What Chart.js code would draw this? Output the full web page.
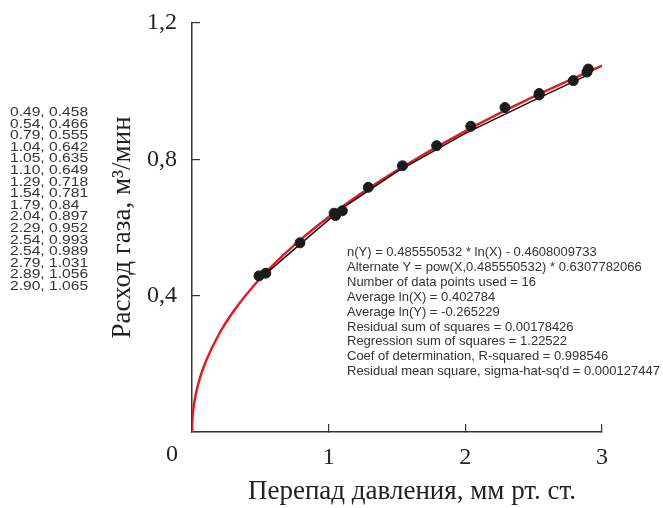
<!DOCTYPE html>
<html lang="ru">
<head>
<meta charset="utf-8">
<title>Расход газа</title>
<script src="https://cdn.jsdelivr.net/npm/chart.js@4.4.1/dist/chart.umd.min.js"></script>
<style>
  body { margin: 0; background: #fff; }
  #wrap { position: relative; width: 663px; height: 508px; overflow: hidden; }
  #gasChart { position: absolute; left: 0; top: 0; }
  #pointList {
    position: absolute; left: 10px; top: 106px;
    font: 13px "Liberation Sans", Arial, sans-serif;
    line-height: 11.6px; color: #333;
    transform: scaleX(1.2); transform-origin: 0 0;
  }
  #fitNotes {
    position: absolute; left: 347px; top: 245px;
    font: 13px "Liberation Sans", Arial, sans-serif;
    line-height: 14.9px; color: #333; white-space: nowrap;
  }
</style>
</head>
<body>
<div id="wrap">
  <canvas id="gasChart" width="663" height="508"></canvas>
  <div id="pointList"></div>
  <div id="fitNotes"></div>
</div>
<script>
// measured points
const pressureDrop = [0.49, 0.54, 0.79, 1.04, 1.05, 1.10, 1.29, 1.54, 1.79, 2.04, 2.29, 2.54, 2.54, 2.79, 2.89, 2.90];
const gasFlow = [0.458, 0.466, 0.555, 0.642, 0.635, 0.649, 0.718, 0.781, 0.84, 0.897, 0.952, 0.993, 0.989, 1.031, 1.056, 1.065];

// red fitted curve
const fitX = [0, 0.002, 0.01, 0.03, 0.06, 0.1, 0.2, 0.3, 0.5, 0.75, 1, 1.25, 1.5, 2, 2.5, 3];
const fitY = [0, 0.031, 0.067, 0.115, 0.161, 0.206, 0.289, 0.352, 0.451, 0.549, 0.631, 0.703, 0.768, 0.883, 0.984, 1.075];

// thin black line under the red one
const trendX = [0.49, 0.8, 1.1, 1.5, 2.0, 2.5, 2.92];
const trendY = [0.447, 0.554, 0.657, 0.764, 0.876, 0.973, 1.052];

const xTitle = "Перепад давления, мм рт. ст.";
const yTitle = "Расход газа, м³/мин";

const fitNotes = [
  "n(Y) = 0.485550532 * ln(X) - 0.4608009733",
  "Alternate Y = pow(X,0.485550532) * 0.6307782066",
  "Number of data points used = 16",
  "Average ln(X) = 0.402784",
  "Average ln(Y) = -0.265229",
  "Residual sum of squares = 0.00178426",
  "Regression sum of squares = 1.22522",
  "Coef of determination, R-squared = 0.998546",
  "Residual mean square, sigma-hat-sq'd = 0.000127447",
];

const serif = '"Liberation Serif", "Times New Roman", serif';
const ink = "#222";

function toPoints(xs, ys) {
  return xs.map((x, i) => ({ x: x, y: ys[i] }));
}

function renderSideText() {
  document.getElementById("pointList").innerHTML = pressureDrop
    .map((x, i) => `<div>${x.toFixed(2)}, ${gasFlow[i]}</div>`)
    .join("");
  document.getElementById("fitNotes").innerHTML = fitNotes
    .map((line) => `<div>${line}</div>`)
    .join("");
}

// corner "0" and the x title are a bit off-centre in the original
const axisExtras = {
  id: "axisExtras",
  afterDraw(chart) {
    const { ctx, scales } = chart;
    const x0 = scales.x.getPixelForValue(0);
    const y0 = scales.y.getPixelForValue(0);
    ctx.save();
    ctx.fillStyle = ink;
    ctx.textAlign = "center";
    ctx.textBaseline = "top";
    ctx.font = `24px ${serif}`;
    ctx.fillText("0", x0 - 20, y0 + 11);
    ctx.textBaseline = "middle";
    ctx.font = `27px ${serif}`;
    ctx.fillText(xTitle, (x0 + scales.x.getPixelForValue(3)) / 2 + 15, 492);
    ctx.restore();
  },
};

function renderGasChart() {
  const ctx = document.getElementById("gasChart");

  new Chart(ctx, {
    type: "scatter",
    data: {
      datasets: [
        {
          data: toPoints(pressureDrop, gasFlow),
          backgroundColor: "#1b1b1b",
          borderColor: "#1b1b1b",
          pointRadius: 5,
          order: 0,
        },
        {
          data: toPoints(trendX, trendY),
          showLine: true,
          borderColor: "#111",
          borderWidth: 1.5,
          pointRadius: 0,
          order: 1,
        },
        {
          data: toPoints(fitX, fitY),
          showLine: true,
          borderColor: "#e51b24",
          borderWidth: 2.5,
          pointRadius: 0,
          cubicInterpolationMode: "monotone",
          order: 2,
        },
      ],
    },
    options: {
      responsive: false,
      animation: false,
      devicePixelRatio: 1,
      layout: { padding: { left: 0, top: 23, right: 61, bottom: 0 } },
      plugins: { legend: { display: false }, tooltip: { enabled: false } },
      scales: {
        x: {
          type: "linear",
          min: 0,
          max: 3,
          afterFit: (scale) => {
            scale.height = 76;
            scale.paddingLeft = 0;
            scale.paddingRight = 0;
          },
          border: { display: true, color: "#333", width: 1.5 },
          grid: { drawOnChartArea: false, drawTicks: true, tickLength: -8, color: "#333", lineWidth: 1.2 },
          ticks: {
            stepSize: 1,
            padding: 19,
            color: ink,
            font: { family: serif, size: 24 },
            callback: (value) => (value === 0 ? "" : String(value)),
          },
          title: { display: false },
        },
        y: {
          type: "linear",
          min: 0,
          max: 1.2,
          afterFit: (scale) => {
            scale.width = 192;
            scale.paddingTop = 0;
            scale.paddingBottom = 0;
          },
          border: { display: true, color: "#333", width: 1.5 },
          grid: { drawOnChartArea: false, drawTicks: true, tickLength: -8, color: "#333", lineWidth: 1.2 },
          ticks: {
            stepSize: 0.4,
            padding: 23,
            color: ink,
            font: { family: serif, size: 24 },
            callback: (value) => (value === 0 ? "" : value.toFixed(1).replace(".", ",")),
          },
          title: {
            display: true,
            text: yTitle,
            color: ink,
            font: { family: serif, size: 27 },
            padding: { top: 107, bottom: 0 },
          },
        },
      },
    },
    plugins: [axisExtras],
  });
}

renderSideText();
renderGasChart();
</script>
</body>
</html>
